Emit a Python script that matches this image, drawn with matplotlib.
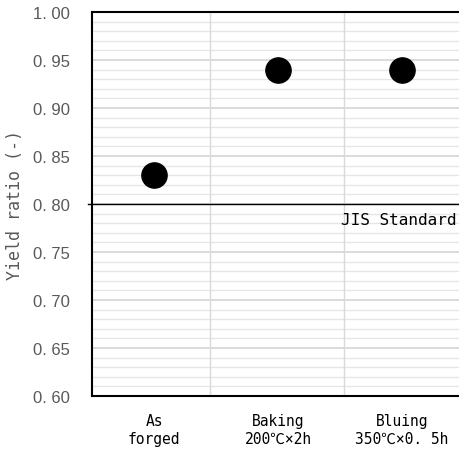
import matplotlib.pyplot as plt
from matplotlib.ticker import MultipleLocator

plt.rcParams['font.family'] = ['DejaVu Sans Mono', 'Noto Sans CJK JP', 'DejaVu Sans']

# data
categories = ['As\nforged', 'Baking\n200℃×2h', 'Bluing\n350℃×0. 5h']
yield_ratio = [0.83, 0.94, 0.94]
jis_standard = 0.80
y_ticks = [0.60, 0.65, 0.70, 0.75, 0.80, 0.85, 0.90, 0.95, 1.00]
y_labels = ['0. 60', '0. 65', '0. 70', '0. 75', '0. 80', '0. 85', '0. 90', '0. 95', '1. 00']

fig = plt.figure(figsize=(4.6, 4.52), dpi=100)
ax = fig.add_axes([92 / 460, 1 - 397 / 452, 372 / 460, 384 / 452])

x = range(len(categories))
ax.set_xlim(-0.5, 2.5)
ax.set_ylim(0.60, 1.00)

# grid
ax.yaxis.set_minor_locator(MultipleLocator(0.01))
ax.grid(which='minor', axis='y', color='#e6e6e6', lw=1.0)
ax.grid(which='major', axis='y', color='#d4d4d4', lw=1.2)
for xb in [0.45, 1.53]:
    ax.axvline(xb, color='#d9d9d9', lw=1.0, zorder=1)
ax.set_axisbelow(True)

# JIS standard line
ax.axhline(jis_standard, xmin=-0.01, color='black', lw=1.0, clip_on=False, zorder=3)
ax.text(2.44, jis_standard - 0.008, 'JIS Standard', ha='right', va='top',
        fontsize=11.5, color='black')

ax.scatter(x, yield_ratio, s=330, color='black', zorder=4)

ax.set_yticks(y_ticks)
ax.set_yticklabels(y_labels, fontsize=12, color='#595959',
                   family=['Liberation Sans', 'DejaVu Sans'])
ax.set_xticks(list(x))
ax.set_xticklabels(categories, fontsize=10.5, color='black', linespacing=1.3)
ax.tick_params(axis='both', which='both', length=0)
ax.tick_params(axis='y', pad=16)
ax.tick_params(axis='x', pad=12)

ax.set_ylabel('Yield ratio (-)', fontsize=12, color='#595959')
ax.yaxis.set_label_coords((24 - 92) / 372, 0.5)

for side in ['top', 'left', 'bottom']:
    ax.spines[side].set_linewidth(1.5)
    ax.spines[side].set_color('black')
ax.spines['right'].set_visible(False)

fig.savefig('out.png', dpi=100)
